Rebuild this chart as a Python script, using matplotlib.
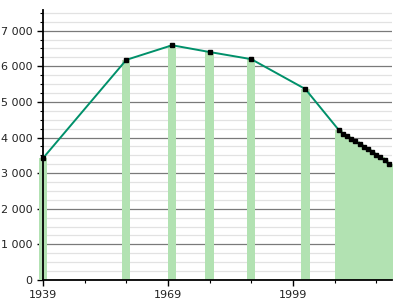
import matplotlib
matplotlib.use("Agg")
import matplotlib.pyplot as plt
from matplotlib.ticker import MultipleLocator, FuncFormatter, FixedLocator

years = [1939, 1959, 1970, 1979, 1989, 2002, 2010,
         2011, 2012, 2013, 2014, 2015, 2016, 2017, 2018, 2019, 2020, 2021, 2022]
population = [3420, 6180, 6590, 6400, 6200, 5360, 4213,
              4110, 4030, 3960, 3890, 3810, 3740, 3670, 3600, 3520, 3440, 3360, 3250]
xtick_labels = ["1939", "1969", "1999"]

bar_color = "#b2e2b2"
line_color = "#00906a"

fig = plt.figure(figsize=(4, 3), dpi=100)
ax = fig.add_axes([0.1075, 0.0667, 0.8725, 0.9])

ax.bar(years, population, width=2.0, color=bar_color, linewidth=0, zorder=2, clip_on=False)
ax.plot(years, population, color=line_color, lw=1.4, zorder=3, clip_on=False)
ax.plot(years, population, ls="none", marker="s", ms=3.2, color="black", zorder=4, clip_on=False)

ax.set_xlim(1939, 2022.8)
ax.set_ylim(0, 7580)

ax.yaxis.set_major_locator(MultipleLocator(1000))
ax.yaxis.set_minor_locator(MultipleLocator(250))
ax.yaxis.set_major_formatter(FuncFormatter(lambda v, p: f"{int(v):,}".replace(",", " ")))
ax.grid(which="major", axis="y", color="#7a7a7a", lw=0.9, zorder=1)
ax.grid(which="minor", axis="y", color="#e2e2e2", lw=0.9, zorder=1)
ax.set_axisbelow(True)

ax.xaxis.set_major_locator(FixedLocator([1939, 1969, 1999]))
ax.xaxis.set_major_formatter(FuncFormatter(lambda v, p: str(int(v))))
ax.xaxis.set_minor_locator(FixedLocator([1949, 1959, 1979, 1989, 2009, 2019]))

for s in ["top", "right"]:
    ax.spines[s].set_visible(False)
for s in ["left", "bottom"]:
    ax.spines[s].set_linewidth(1.3)
    ax.spines[s].set_color("black")
    ax.spines[s].set_zorder(5)

ax.tick_params(axis="both", which="major", direction="out", length=4, width=1, labelsize=8, colors="black")
ax.tick_params(axis="both", which="minor", direction="out", length=2.5, width=0.8)
for lab in ax.get_xticklabels() + ax.get_yticklabels():
    lab.set_color("#222222")

fig.savefig("out.png", dpi=100)
